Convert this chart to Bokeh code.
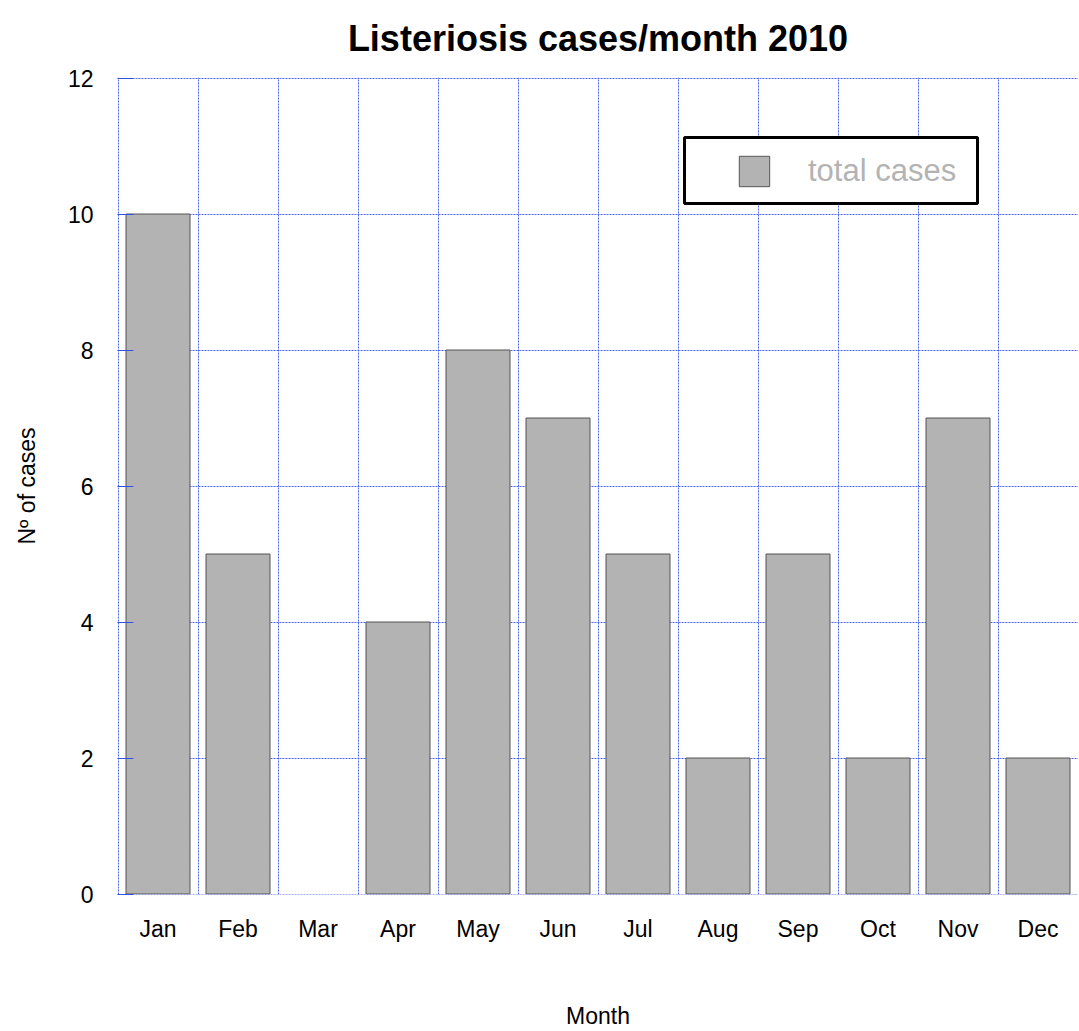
from bokeh.plotting import figure
from bokeh.models import (Range1d, FixedTicker, Legend, LegendItem, BoxAnnotation,
                          ColumnDataSource)
from bokeh.embed import file_html
from bokeh.resources import INLINE

# ---- data ----
months = ["Jan", "Feb", "Mar", "Apr", "May", "Jun",
          "Jul", "Aug", "Sep", "Oct", "Nov", "Dec"]
cases = [10, 5, 0, 4, 8, 7, 5, 2, 5, 2, 7, 2]
y_ticks = [0, 2, 4, 6, 8, 10, 12]
title_text = "Listeriosis cases/month 2010"
x_label = "Month"
y_label = "Nº of cases"
legend_label = "total cases"

# ---- derived ----
n = len(months)
positions = [i + 0.5 for i in range(n)]
boundaries = list(range(0, n + 1))
edge_alpha = [1.0 if c > 0 else 0.0 for c in cases]
src = ColumnDataSource(dict(x=positions, top=cases, month=months, la=edge_alpha))

FONT = "Liberation Sans"
BLUE = "#3050e6"
GRID = "#4a64ee"

# half-pixel padding so 1px lines fall on pixel centres (80 px per month, 68 px per case)
xpad = 0.5 / 80
ypad = 0.5 / 68

p = figure(width=1078, height=1031,
           x_range=Range1d(0 - xpad, n + xpad),
           y_range=Range1d(y_ticks[0] - ypad, y_ticks[-1] + ypad),
           output_backend="svg", toolbar_location=None,
           min_border_left=117, min_border_right=0,
           min_border_top=77, min_border_bottom=137)

p.background_fill_color = "white"
p.border_fill_color = "white"
p.outline_line_color = None

xa = p.below[0]
ya = p.left[0]

# title
p.title.text = title_text
p.title.text_font = FONT
p.title.text_font_size = "36px"
p.title.text_font_style = "bold"
p.title.text_color = "black"
p.title.align = "center"
p.title.offset = -8
p.title.vertical_align = "top"
p.title.standoff = 33

bars = p.vbar(x="x", top="top", width=0.8, source=src,
              fill_color="#b3b3b3", line_color="#555555", line_width=1,
              line_alpha="la")

# grids (the outer grid lines form the dashed blue frame)
p.xgrid.ticker = FixedTicker(ticks=boundaries)
p.ygrid.ticker = FixedTicker(ticks=y_ticks)
for g in (p.xgrid, p.ygrid):
    g.grid_line_color = GRID
    g.grid_line_dash = "2 1"
    g.grid_line_width = 1
    g.grid_line_alpha = 1.0

# x axis
xa.ticker = FixedTicker(ticks=positions)
xa.major_label_overrides = {pos: m for pos, m in zip(positions, months)}
xa.major_tick_in = 0
xa.major_tick_out = 0
xa.minor_tick_line_color = None
xa.axis_line_color = None
xa.major_label_standoff = 21
xa.major_label_text_font = FONT
xa.major_label_text_font_size = "23px"
xa.major_label_text_color = "black"
xa.axis_label = x_label
xa.axis_label_text_font = FONT
xa.axis_label_text_font_size = "23px"
xa.axis_label_text_font_style = "normal"
xa.axis_label_text_color = "black"
xa.axis_label_standoff = 58

# y axis
ya.ticker = FixedTicker(ticks=y_ticks)
ya.major_tick_in = 16
ya.major_tick_out = 0
ya.major_tick_line_color = BLUE
ya.minor_tick_line_color = None
ya.axis_line_color = None
ya.major_label_standoff = 24
ya.major_label_text_font = FONT
ya.major_label_text_font_size = "23px"
ya.major_label_text_color = "black"
ya.axis_label = y_label
ya.axis_label_text_font = FONT
ya.axis_label_text_font_size = "23px"
ya.axis_label_text_font_style = "normal"
ya.axis_label_text_color = "black"
ya.axis_label_standoff = 25

# legend frame (screen units, relative to plot frame)
legend_box = BoxAnnotation(left=567, right=860, bottom=691, top=757,
                           left_units="screen", right_units="screen",
                           bottom_units="screen", top_units="screen",
                           fill_color="white", fill_alpha=1.0,
                           line_color="black", line_width=3, line_alpha=1.0)
p.add_layout(legend_box)

legend = Legend(items=[LegendItem(label=legend_label, renderers=[bars], index=0)],
                location=(618, 704), padding=0, margin=0, spacing=0,
                glyph_width=38, glyph_height=38, label_standoff=35,
                label_text_font=FONT, label_text_font_size="31px",
                label_text_color="#b3b3b3",
                border_line_alpha=0, background_fill_alpha=0)
p.add_layout(legend)

open("out.html", "w").write(file_html(p, INLINE))
